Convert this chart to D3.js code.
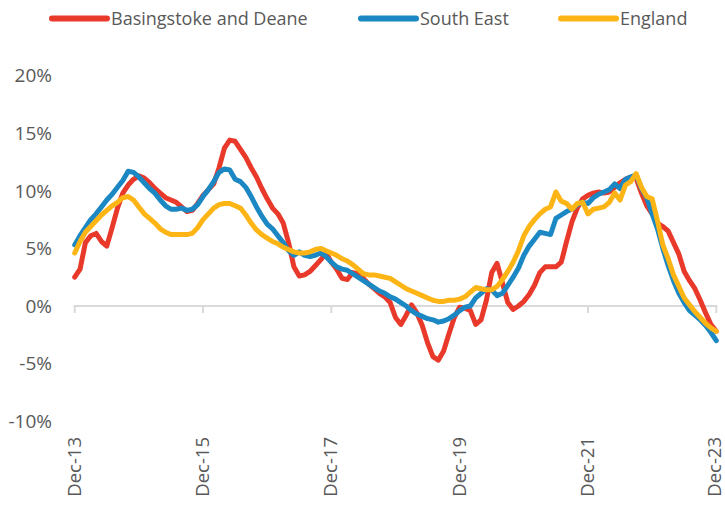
<!DOCTYPE html>
<html>
<head>
<meta charset="utf-8">
<script src="https://cdn.jsdelivr.net/npm/d3@7"></script>
<style>
  body { margin: 0; background: #fff; }
  svg text { font-family: "Open Sans", Lato, sans-serif; fill: #595959; }
</style>
</head>
<body>
<div id="chart"></div>
<script>
'use strict';

// monthly series, Dec-13 .. Dec-23 (121 points), annual % change
const seriesNames = ['Basingstoke and Deane', 'South East', 'England'];
const seriesColors = ['#E8392A', '#1B87C3', '#FDB516'];

const basingstoke = [
  2.5, 3.2, 5.5, 6.1, 6.3, 5.6, 5.2, 6.8, 8.5, 9.8, 10.5, 11.0,
  11.3, 11.1, 10.7, 10.2, 9.8, 9.4, 9.2, 9.0, 8.6, 8.2, 8.3, 8.9,
  9.6, 10.1, 10.6, 12.0, 13.7, 14.4, 14.3, 13.6, 12.9, 12.0, 11.2, 10.2,
  9.3, 8.5, 8.0, 7.2, 5.5, 3.4, 2.6, 2.7, 3.0, 3.5, 4.0, 4.6,
  3.8, 3.2, 2.4, 2.3, 2.9, 2.8, 2.4, 1.9, 1.5, 1.1, 0.8, 0.3,
  -1.0, -1.6, -0.8, 0.1, -0.6, -1.7, -3.2, -4.4, -4.7, -3.9, -2.4, -1.0,
  -0.1, -0.2, -0.4, -1.6, -1.2, 0.5, 2.9, 3.7, 2.0, 0.3, -0.3, 0.0,
  0.4, 1.0, 1.8, 2.9, 3.4, 3.4, 3.4, 3.8, 5.6, 7.3, 8.5, 9.3,
  9.6, 9.8, 9.9, 9.8, 9.9, 10.3, 10.7, 11.0, 11.2, 11.1, 9.8, 8.7,
  8.0, 7.2, 6.9, 6.5, 5.5, 4.5, 3.0, 2.2, 1.5, 0.5, -0.6, -1.6,
  -2.2
];

const southEast = [
  5.3, 6.1, 6.8, 7.5, 8.0, 8.6, 9.2, 9.7, 10.3, 10.9, 11.7, 11.6,
  11.2, 10.7, 10.2, 9.8, 9.2, 8.7, 8.4, 8.4, 8.5, 8.3, 8.4, 8.8,
  9.5, 10.1, 10.8, 11.6, 11.9, 11.8, 11.0, 10.8, 10.3, 9.5, 8.6, 7.8,
  7.1, 6.7, 6.1, 5.5, 4.8, 4.4, 4.7, 4.4, 4.3, 4.4, 4.6, 4.3,
  3.8, 3.4, 3.2, 3.1, 2.8, 2.5, 2.2, 1.9, 1.6, 1.3, 1.1, 0.8,
  0.6, 0.3, 0.0, -0.4, -0.7, -0.9, -1.1, -1.2, -1.4, -1.3, -1.1, -0.8,
  -0.4, -0.1, 0.0, 0.7, 1.1, 1.5, 1.4, 0.9, 1.1, 1.8, 2.5, 3.3,
  4.4, 5.2, 5.8, 6.4, 6.3, 6.2, 7.6, 7.9, 8.2, 8.4, 8.8, 9.0,
  8.9, 9.4, 9.7, 9.9, 10.1, 10.6, 10.2, 11.0, 11.2, 11.4, 10.2, 9.4,
  8.0, 6.7, 5.0, 3.5, 2.2, 1.1, 0.3, -0.4, -0.8, -1.2, -1.7, -2.3,
  -3.0
];

const england = [
  4.6, 5.6, 6.4, 6.9, 7.4, 7.9, 8.3, 8.7, 9.0, 9.4, 9.5, 9.2,
  8.6, 8.0, 7.6, 7.2, 6.7, 6.4, 6.2, 6.2, 6.2, 6.2, 6.3, 6.8,
  7.5, 8.0, 8.5, 8.8, 8.9, 8.9, 8.7, 8.5, 7.9, 7.2, 6.6, 6.2,
  5.9, 5.6, 5.4, 5.1, 4.9, 4.7, 4.6, 4.6, 4.7, 4.9, 5.0, 4.8,
  4.6, 4.4, 4.1, 3.9, 3.6, 3.2, 2.8, 2.7, 2.7, 2.6, 2.5, 2.4,
  2.1, 1.8, 1.5, 1.3, 1.1, 0.9, 0.7, 0.5, 0.4, 0.4, 0.5, 0.5,
  0.6, 0.8, 1.2, 1.6, 1.5, 1.4, 1.4, 1.7, 2.3, 3.0, 3.8, 4.8,
  6.1, 6.9, 7.5, 8.0, 8.4, 8.6, 9.9, 9.1, 8.9, 8.4, 8.9, 9.0,
  8.0, 8.4, 8.5, 8.6, 9.0, 9.8, 9.2, 10.5, 10.8, 11.5, 10.3, 9.5,
  9.3, 7.4, 5.3, 4.1, 2.7, 1.7, 0.7, 0.1, -0.5, -1.0, -1.5, -1.9,
  -2.2
];

const xTickIndex = [0, 24, 48, 72, 96, 120];
const xTickLabels = ['Dec-13', 'Dec-15', 'Dec-17', 'Dec-19', 'Dec-21', 'Dec-23'];
const yTicks = [-10, -5, 0, 5, 10, 15, 20];

const width = 725, height = 506;
const svg = d3.select('#chart').append('svg').attr('width', width).attr('height', height);

const x = d3.scaleLinear().domain([0, 120]).range([74.7, 716.3]);
const y = d3.scaleLinear().domain([-10, 20]).range([421.2, 75.6]);

//y labels (no gridlines in the original)
svg.append('g').selectAll('text').data(yTicks).join('text')
  .attr('x', 52).attr('y', d => y(d)).attr('dy', '0.36em')
  .attr('text-anchor', 'end').attr('font-size', 19)
  .text(d => d + '%');

//x axis sits on 0%
svg.append('line')
  .attr('x1', x(0) - 1).attr('x2', x(120) + 1)
  .attr('y1', y(0)).attr('y2', y(0))
  .attr('stroke', '#d9d9d9').attr('stroke-width', 2);

svg.append('g').selectAll('line').data(xTickIndex).join('line')
  .attr('x1', d => x(d)).attr('x2', d => x(d))
  .attr('y1', y(0)).attr('y2', y(0) + 7)
  .attr('stroke', '#d9d9d9').attr('stroke-width', 2);

//rotated month labels, last one kept inside the page
svg.append('g').selectAll('text').data(xTickIndex).join('text')
  .attr('transform', d => `translate(${Math.min(x(d) + 6, width - 4)},437) rotate(-90)`)
  .attr('text-anchor', 'end').attr('font-size', 18.5)
  .text((d, i) => xTickLabels[i]);

//lines
const allSeries = [basingstoke, southEast, england];
const line = d3.line()
  .x((d, i) => x(i))
  .y(d => y(d));

allSeries.forEach((s, k) => {
  svg.append('path')
    .attr('fill', 'none')
    .attr('stroke', seriesColors[k])
    .attr('stroke-width', 5)
    .attr('stroke-linejoin', 'round')
    .attr('stroke-linecap', 'round')
    .attr('d', line(s));
});

//legend
const legendX = [52, 361, 561];
const lg = svg.append('g').selectAll('g').data(seriesNames).join('g')
  .attr('transform', (d, i) => `translate(${legendX[i]},18.5)`);
lg.append('line').attr('x1', 0).attr('x2', 55).attr('y1', 0).attr('y2', 0)
  .attr('stroke', (d, i) => seriesColors[i]).attr('stroke-width', 6)
  .attr('stroke-linecap', 'round');
lg.append('text').attr('x', 59).attr('dy', '0.36em').attr('font-size', 18)
  .text(d => d);
</script>
</body>
</html>
